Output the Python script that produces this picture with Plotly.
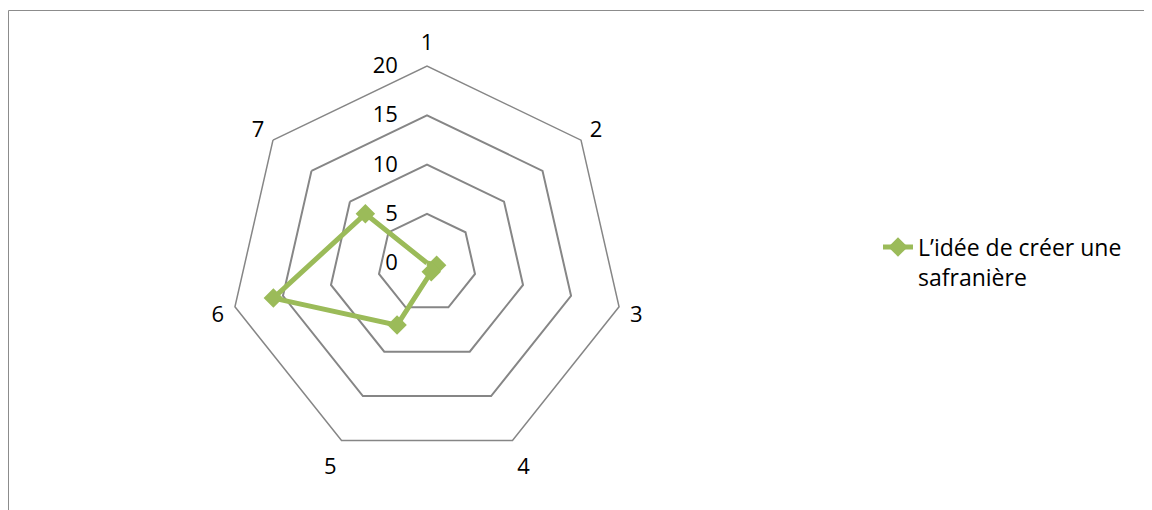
import plotly.graph_objects as go

categories = ["1", "2", "3", "4", "5", "6", "7"]
values = [0, 0, 1, 1, 7, 16, 8]
series_name = "L’idée de créer une<br>safranière"
radial_ticks = [0, 5, 10, 15, 20]

GREEN = "#9BBB59"
GRID = "#868686"
FONT = "Open Sans"
W, H = 1152, 510
OFF = 8  # default page body margin


def px(x):
    return (x - OFF) / W


def py(y):
    return 1 - (y - OFF) / H


fig = go.Figure()
fig.add_trace(go.Scatterpolar(
    r=values + values[:1],
    theta=categories + categories[:1],
    mode="lines+markers",
    name=series_name,
    line=dict(color=GREEN, width=5),
    marker=dict(symbol="diamond", size=15, color=GREEN),
    showlegend=True,
))

fig.update_layout(
    width=W, height=H,
    margin=dict(l=0, r=0, t=0, b=0),
    paper_bgcolor="white",
    font=dict(family=FONT, size=22, color="black"),
    polar=dict(
        domain=dict(x=[px(230), px(624)], y=[py(460), py(66)]),
        gridshape="linear",
        bgcolor="white",
        angularaxis=dict(
            direction="clockwise", rotation=90,
            showline=True, linecolor=GRID, linewidth=1.5,
            showgrid=False, ticks="outside", ticklen=6,
            tickcolor="rgba(0,0,0,0)",
            tickfont=dict(size=22),
        ),
        radialaxis=dict(
            range=[0, 20], tickvals=radial_ticks,
            angle=90, side="counterclockwise", tickangle=90,
            showline=False, ticks="outside", ticklen=21,
            tickcolor="rgba(0,0,0,0)",
            gridcolor=GRID, gridwidth=1.5,
            tickfont=dict(size=22),
        ),
    ),
    legend=dict(
        x=px(878), y=py(262), xanchor="left", yanchor="middle",
        valign="top",
        font=dict(size=23), bgcolor="rgba(0,0,0,0)",
    ),
    shapes=[dict(type="rect", xref="paper", yref="paper",
                 x0=px(8.5), y0=-0.05, x1=1.05, y1=py(10.5),
                 line=dict(color="#8c8c8c", width=1))],
)

fig.write_html("out.html")
